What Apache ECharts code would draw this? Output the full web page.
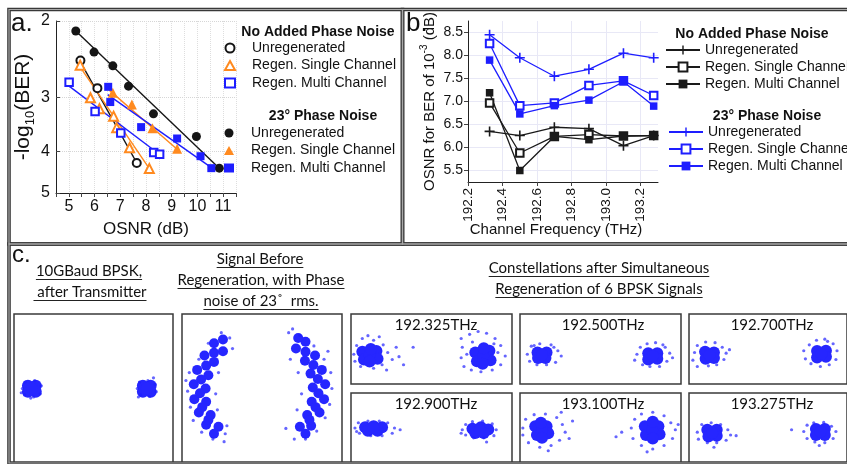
<!DOCTYPE html>
<html>
<head>
<meta charset="utf-8">
<title>BPSK phase regeneration</title>
<script src="https://cdn.jsdelivr.net/npm/echarts@6/dist/echarts.min.js"></script>
<style>
html, body { margin: 0; padding: 0; background: #fff; }
#main { width: 847px; height: 464px; }
</style>
</head>
<body>
<div id="main"></div>
<script>
// ---------- a. BER curves: [OSNR (dB), -log10(BER)]
const osnrTicks = [5, 6, 7, 8, 9, 10, 11];
const berTicks = [2, 3, 4, 5];
const aNoPnUnreg = [[5.45, 2.47], [6.11, 2.86], [7.64, 4.26]];
const aNoPnSingle = [[5.44, 2.53], [5.84, 3.01], [6.19, 3.19], [6.74, 3.32], [6.86, 3.53], [7.36, 3.93], [8.13, 4.39]];
const aNoPnMulti = [[5.01, 2.77], [6.02, 3.24], [7.02, 3.63], [8.30, 4.03], [8.53, 4.07]];
const aPnUnreg = [[5.27, 2.11], [5.98, 2.36], [6.71, 2.54], [7.32, 2.83], [8.29, 3.28], [9.96, 3.70], [10.85, 4.38]];
const aPnSingle = [[6.71, 2.93], [7.45, 3.12], [8.25, 3.54], [9.21, 3.95]];
const aPnMulti = [[6.53, 2.84], [6.61, 3.08], [7.81, 3.52], [9.21, 3.74], [10.12, 4.11], [10.54, 4.38]];
// fitted lines (end points)
const fitNoPnUnreg = [[5.39, 2.45], [7.67, 4.29]];
const fitNoPnSingle = [[5.35, 2.51], [8.13, 4.39]];
const fitNoPnMulti = [[5.01, 2.83], [8.57, 4.09]];
const fitPnUnreg = [[5.20, 2.09], [10.90, 4.41]];
const fitPnSingle = [[6.57, 2.89], [9.21, 3.96]];
const fitPnMulti = [[6.51, 2.96], [10.57, 4.38]];

// ---------- b. OSNR for BER of 1e-3 per channel
const freqs = [192.325, 192.5, 192.7, 192.9, 193.1, 193.275];
const freqTicks = [192.2, 192.4, 192.6, 192.8, 193.0, 193.2];
const reqTicks = [5.5, 6.0, 6.5, 7.0, 7.5, 8.0, 8.5];
const bNoPnUnreg = [6.35, 6.26, 6.44, 6.41, 6.04, 6.26];
const bNoPnSingle = [6.97, 5.88, 6.24, 6.28, 6.25, 6.26];
const bNoPnMulti = [7.19, 5.50, 6.24, 6.17, 6.25, 6.26];
const bPnUnreg = [8.45, 7.95, 7.55, 7.70, 8.05, 7.95];
const bPnSingle = [8.26, 6.91, 6.97, 7.35, 7.45, 7.13];
const bPnMulti = [7.90, 6.73, 6.91, 7.03, 7.43, 6.90];

// ---------- c. constellations [I, Q]
const chTitles = ['192.325THz', '192.500THz', '192.700THz', '192.900THz', '193.100THz', '193.275THz'];
const txCore = [[-1.10, 0.05], [-0.96, 0.05], [-0.96, -0.06], [-1.10, -0.06], [-1.03, 0.0],
  [0.96, 0.05], [1.10, 0.05], [1.10, -0.06], [0.96, -0.06], [1.03, 0.0]];
const txSpread = [[-1.20, 0.0], [-1.15, 0.12], [-0.98, 0.15], [-0.86, 0.05], [-0.88, -0.10], [-1.00, -0.16],
  [-1.16, -0.12], [-1.05, -0.18], [-1.22, -0.08], [0.86, 0.0], [0.90, 0.12], [1.05, 0.15], [1.18, 0.08],
  [1.20, -0.06], [1.08, -0.15], [0.92, -0.12], [1.15, 0.20], [0.88, -0.16]];
const pnCore = [[-0.78, 0.85], [-0.95, 0.62], [-1.08, 0.35], [-1.14, 0.08], [-1.13, -0.20], [-1.05, -0.45], [-0.92, -0.68],
  [-0.62, 0.70], [-0.78, 0.50], [-0.88, 0.25], [-0.93, 0.0], [-0.92, -0.25], [-0.84, -0.50], [-0.70, -0.72],
  [-0.78, 0.67], [-0.92, 0.43], [-1.01, 0.17], [-1.03, -0.09], [-0.99, -0.35], [-0.88, -0.59], [-0.62, 0.92], [-0.78, -0.85],
  [0.85, 0.88], [1.02, 0.62], [1.14, 0.35], [1.20, 0.08], [1.18, -0.20], [1.10, -0.45], [0.95, -0.70],
  [0.68, 0.75], [0.84, 0.52], [0.94, 0.28], [0.98, 0.02], [0.96, -0.25], [0.88, -0.50], [0.75, -0.72],
  [0.85, 0.69], [0.99, 0.44], [1.07, 0.18], [1.08, -0.09], [1.03, -0.35], [0.92, -0.59], [0.72, 0.95], [0.85, -0.85]];
const pnSpread = [[-0.65, 1.05], [-0.50, 0.95], [-0.45, 0.75], [-0.88, 0.85], [-1.05, 0.55], [-1.22, 0.30],
  [-1.25, -0.05], [-1.20, -0.35], [-1.15, -0.60], [-1.00, -0.82], [-0.80, -0.95], [-0.60, -1.00], [-0.58, -0.85],
  [-0.70, 0.30], [-0.75, -0.10], [-0.72, -0.40], [-0.55, -0.70], [-1.28, 0.15],
  [0.55, 1.05], [0.62, 1.12], [0.75, 1.00], [1.00, 0.80], [1.18, 0.55], [1.30, 0.30], [1.32, 0.0],
  [1.28, -0.30], [1.20, -0.55], [1.05, -0.80], [0.85, -0.95], [0.65, -0.95], [0.50, -0.75], [0.72, 0.30],
  [0.78, -0.10], [0.70, -0.40], [0.58, 0.55], [1.25, 0.70]];
const c325Core = [[-1.15, -0.08], [-0.90, -0.06], [-0.88, -0.28], [-1.12, -0.30], [-1.02, -0.17], [-1.00, 0.0], [-1.02, -0.36],
  [0.85, -0.10], [1.10, -0.05], [1.12, -0.32], [0.88, -0.35], [0.99, -0.20], [1.00, 0.02], [0.98, -0.42]];
const c325Spread = [[-1.30, -0.15], [-1.25, 0.10], [-1.15, 0.30], [-0.95, 0.25], [-0.78, 0.12], [-0.70, -0.10],
  [-0.62, -0.30], [-0.50, -0.22], [-0.55, 0.05], [-0.80, -0.45], [-0.95, -0.55], [-1.18, -0.50], [-1.28, -0.35],
  [-0.42, -0.45], [-0.25, 0.05], [-0.72, -0.60], [-1.05, 0.38], [-0.85, 0.35],
  [0.60, 0.30], [0.62, 0.05], [0.60, -0.25], [0.65, -0.50], [0.75, 0.42], [0.90, 0.50], [1.05, 0.45], [1.20, 0.30],
  [1.30, 0.10], [1.38, -0.20], [1.30, -0.45], [1.15, -0.60], [0.95, -0.65], [0.78, -0.60], [0.70, -0.15],
  [1.25, -0.10], [0.80, 0.20], [1.18, 0.15]];
const c500Core = [[-1.04, -0.10], [-0.88, -0.10], [-0.90, -0.26], [-1.03, -0.26], [-0.96, -0.17],
  [0.92, -0.12], [1.08, -0.12], [1.08, -0.28], [0.92, -0.30], [1.00, -0.20]];
const c500Spread = [[-1.22, -0.15], [-1.15, 0.08], [-1.00, 0.15], [-0.80, 0.12], [-0.68, -0.05], [-0.62, -0.20],
  [-0.72, -0.38], [-0.88, -0.45], [-1.05, -0.45], [-1.18, -0.35], [-0.75, 0.05], [-1.10, 0.10],
  [0.72, -0.15], [0.68, -0.32], [0.78, 0.05], [0.90, 0.15], [1.05, 0.18], [1.22, 0.05], [1.30, -0.12],
  [1.25, -0.35], [1.12, -0.50], [0.95, -0.50], [0.82, -0.45], [1.18, 0.12], [1.35, -0.25]];
const c700Core = [[-1.06, -0.08], [-0.90, -0.10], [-0.90, -0.26], [-1.05, -0.28], [-0.98, -0.17],
  [0.96, -0.06], [1.12, -0.05], [1.12, -0.22], [0.96, -0.24], [1.04, -0.14]];
const c700Spread = [[-1.25, -0.10], [-1.20, 0.10], [-1.05, 0.20], [-0.88, 0.18], [-0.75, 0.05], [-0.68, -0.12],
  [-0.72, -0.30], [-0.85, -0.45], [-1.00, -0.48], [-1.20, -0.50], [-1.28, -0.32], [-0.62, -0.02],
  [0.72, -0.05], [0.75, -0.28], [0.82, 0.12], [0.95, 0.25], [1.10, 0.28], [1.25, 0.15], [1.32, -0.05],
  [1.30, -0.30], [1.18, -0.45], [1.02, -0.50], [0.85, -0.42], [1.15, 0.22]];
const c900Core = [[-1.10, 0.02], [-0.95, 0.05], [-0.80, 0.02], [-1.05, -0.08], [-0.88, -0.08], [-0.95, 0.0],
  [0.80, -0.02], [0.95, 0.02], [1.08, -0.04], [0.85, -0.14], [1.00, -0.14], [0.93, -0.06]];
const c900Spread = [[-1.28, 0.0], [-1.22, 0.15], [-1.05, 0.20], [-0.85, 0.20], [-0.70, 0.15], [-0.58, 0.0],
  [-0.62, -0.15], [-0.80, -0.22], [-1.00, -0.22], [-1.20, -0.15], [-0.48, -0.05], [-1.25, -0.10],
  [0.62, -0.05], [0.68, 0.10], [0.80, 0.18], [0.98, 0.20], [1.15, 0.12], [1.22, -0.05], [1.18, -0.22],
  [1.00, -0.28], [0.82, -0.28], [0.68, -0.20], [1.05, -0.40], [0.60, -0.15]];
const c1100Core = [[-1.08, 0.05], [-0.88, 0.05], [-0.85, -0.15], [-1.05, -0.20], [-0.96, -0.06], [-0.98, 0.15], [-0.96, -0.28],
  [0.86, 0.05], [1.10, 0.05], [1.12, -0.18], [0.88, -0.20], [0.99, -0.06], [1.00, 0.18], [1.00, -0.30]];
const c1100Spread = [[-1.30, 0.0], [-1.25, 0.25], [-1.10, 0.38], [-0.90, 0.40], [-0.70, 0.30], [-0.60, 0.10],
  [-0.55, -0.12], [-0.65, -0.35], [-0.80, -0.50], [-1.00, -0.55], [-1.20, -0.42], [-1.30, -0.20], [-0.42, 0.20],
  [-0.85, -0.65], [-0.62, 0.45], [-0.48, -0.30],
  [0.62, 0.0], [0.68, 0.25], [0.80, 0.40], [1.00, 0.45], [1.20, 0.35], [1.32, 0.15], [1.40, -0.05], [1.35, -0.30],
  [1.20, -0.50], [1.00, -0.60], [0.80, -0.50], [0.65, -0.30], [0.45, -0.12], [0.35, -0.25], [1.45, 0.10], [0.90, -0.68]];
const c1275Core = [[-1.02, -0.05], [-0.85, -0.05], [-0.85, -0.22], [-1.00, -0.24], [-0.93, -0.14],
  [0.94, -0.03], [1.10, -0.03], [1.10, -0.20], [0.94, -0.20], [1.02, -0.11]];
const c1275Spread = [[-1.20, -0.12], [-1.12, 0.10], [-0.95, 0.15], [-0.78, 0.10], [-0.65, -0.05], [-0.60, -0.20],
  [-0.68, -0.35], [-0.85, -0.42], [-1.02, -0.42], [-1.18, -0.32], [-0.50, -0.22], [-0.90, -0.55],
  [0.72, -0.10], [0.78, 0.08], [0.90, 0.15], [1.08, 0.16], [1.22, 0.05], [1.30, -0.10], [1.25, -0.30],
  [1.10, -0.42], [0.92, -0.40], [0.78, -0.30], [0.50, -0.05], [1.00, -0.50]];

const blue = '#1e1eff', orange = '#ff8a1f', black = '#151515';
const coreBlue = '#2626ff';
const dotBlue = 'rgba(30,30,255,0.85)';
const plus = 'path://M4.2,0H5.8V4.2H10V5.8H5.8V10H4.2V5.8H0V4.2H4.2Z';
const font = 'Liberation Sans';
const cFont = 'Lato';

const toLog = pts => pts.map(p => [p[0], Math.log10(p[1])]);
const withFreq = vals => vals.map((v, i) => [freqs[i], v]);

const ctx = document.createElement('canvas').getContext('2d');
function textWidth(str, f) { ctx.font = f; return ctx.measureText(str).width; }

// constellation frames
const boxes = [
  { left: 14, top: 314, width: 159, height: 149, yr: 1.4, core: txCore, spread: txSpread, coreSize: 12 },
  { left: 182, top: 314, width: 160, height: 149, yr: 1.4, core: pnCore, spread: pnSpread, coreSize: 10 },
  { left: 351, top: 314, width: 161, height: 70, yr: 1, core: c325Core, spread: c325Spread, coreSize: 12, t: 0 },
  { left: 520, top: 314, width: 161, height: 70, yr: 1, core: c500Core, spread: c500Spread, coreSize: 12, t: 1 },
  { left: 689, top: 314, width: 161, height: 70, yr: 1, core: c700Core, spread: c700Spread, coreSize: 12, t: 2 },
  { left: 351, top: 393, width: 161, height: 70, yr: 1, core: c900Core, spread: c900Spread, coreSize: 12, t: 3 },
  { left: 520, top: 393, width: 161, height: 70, yr: 1, core: c1100Core, spread: c1100Spread, coreSize: 12, t: 4 },
  { left: 689, top: 393, width: 161, height: 70, yr: 1, core: c1275Core, spread: c1275Spread, coreSize: 12, t: 5 }
];

const grids = [
  { left: 56, top: 21, width: 180, height: 172 },
  { left: 468, top: 21, width: 190, height: 161 }
];
const xAxes = [
  {
    gridIndex: 0, type: 'value', min: 4.5, max: 11.5, interval: 0.5,
    name: 'OSNR (dB)', nameLocation: 'middle', nameGap: 28,
    nameTextStyle: { fontSize: 17, color: '#111' },
    axisLine: { onZero: false, lineStyle: { color: '#222' } },
    axisTick: { length: 4, lineStyle: { color: '#444' } },
    axisLabel: { customValues: osnrTicks, fontSize: 16, color: '#111', margin: 6 },
    splitLine: { show: true, lineStyle: { type: 'dotted', color: '#dedede' } }
  },
  {
    gridIndex: 1, type: 'value', min: 192.2, max: 193.3,
    axisLine: { onZero: false, lineStyle: { color: '#222' } },
    axisTick: { customValues: freqTicks, length: 4, lineStyle: { color: '#444' } },
    axisLabel: { customValues: freqTicks, rotate: 90, fontSize: 13.5, color: '#111', margin: 6,
      formatter: v => v.toFixed(1) },
    splitLine: { show: true, lineStyle: { color: '#e8e8f6' } }
  }
];
const yAxes = [
  {
    gridIndex: 0, type: 'value', inverse: true, min: Math.log10(2), max: Math.log10(5),
    name: '-log{sub|10}(BER)', nameLocation: 'middle', nameGap: 18, nameRotate: 90,
    nameTextStyle: { fontSize: 21, color: '#111', lineHeight: 28,
      rich: { sub: { fontSize: 13, lineHeight: 28, verticalAlign: 'bottom' } } },
    axisLine: { onZero: false, lineStyle: { color: '#222' } },
    axisTick: { customValues: berTicks.map(Math.log10), inside: true, length: 4, lineStyle: { color: '#444' } },
    axisLabel: { customValues: berTicks.map(Math.log10), fontSize: 16, color: '#111', margin: 6,
      formatter: v => String(Math.round(Math.pow(10, v))) },
    splitLine: { show: true, lineStyle: { type: 'dotted', color: '#d6d6d6' } }
  },
  {
    gridIndex: 1, type: 'value', min: 5.25, max: 8.75,
    name: 'OSNR for BER of 10{sup|-3} (dB)', nameLocation: 'middle', nameGap: 24, nameRotate: 90,
    nameTextStyle: { fontSize: 15, color: '#111', lineHeight: 20,
      rich: { sup: { fontSize: 10, lineHeight: 20, verticalAlign: 'top' } } },
    axisLine: { onZero: false, lineStyle: { color: '#222' } },
    axisTick: { customValues: reqTicks, length: 4, lineStyle: { color: '#444' } },
    axisLabel: { customValues: reqTicks, fontSize: 14, color: '#111', margin: 5,
      formatter: v => v.toFixed(1) },
    splitLine: { show: true, lineStyle: { color: '#e8e8f6' } }
  }
];

const series = [];
function fit(pts, color) {
  series.push({ type: 'line', xAxisIndex: 0, yAxisIndex: 0, data: toLog(pts), symbol: 'none',
    silent: true, lineStyle: { color: color, width: 1.4 }, z: 2 });
}
function dots(name, pts, symbol, size, color) {
  series.push({ name: name, type: 'scatter', xAxisIndex: 0, yAxisIndex: 0, data: toLog(pts),
    symbol: symbol, symbolSize: size, itemStyle: { color: color, borderWidth: 1.3, opacity: 1 }, z: 3 });
}
fit(fitNoPnUnreg, black); fit(fitNoPnSingle, orange); fit(fitNoPnMulti, blue);
fit(fitPnUnreg, black); fit(fitPnSingle, orange); fit(fitPnMulti, blue);
dots('Unregenerated#a1', aNoPnUnreg, 'emptyCircle', 8, black);
dots('Regen. Single Channel#a1', aNoPnSingle, 'emptyTriangle', 9, orange);
dots('Regen. Multi Channel#a1', aNoPnMulti, 'emptyRect', 7.5, blue);
dots('Unregenerated#a2', aPnUnreg, 'circle', 9, black);
dots('Regen. Single Channel#a2', aPnSingle, 'triangle', 10, orange);
dots('Regen. Multi Channel#a2', aPnMulti, 'rect', 8, blue);

function trace(name, vals, symbol, size, color) {
  series.push({ name: name, type: 'line', xAxisIndex: 1, yAxisIndex: 1, data: withFreq(vals),
    symbol: symbol, symbolSize: size, showAllSymbol: true,
    lineStyle: { color: color, width: 1.3 }, itemStyle: { color: color, borderWidth: 1.2 } });
}
trace('Unregenerated#b1', bNoPnUnreg, plus, 10, '#1a1a1a');
trace('Regen. Single Channel#b1', bNoPnSingle, 'emptyRect', 7.5, '#1a1a1a');
trace('Regen. Multi Channel#b1', bNoPnMulti, 'rect', 7.5, '#1a1a1a');
trace('Unregenerated#b2', bPnUnreg, plus, 10, blue);
trace('Regen. Single Channel#b2', bPnSingle, 'emptyRect', 7.5, blue);
trace('Regen. Multi Channel#b2', bPnMulti, 'rect', 7.5, blue);

boxes.forEach(b => {
  const gi = grids.length;
  grids.push({ left: b.left, top: b.top, width: b.width, height: b.height, show: true,
    backgroundColor: '#fff', borderColor: '#3a3a3a', borderWidth: 1.5 });
  xAxes.push({ gridIndex: gi, type: 'value', min: -1.35, max: 1.5, show: false });
  yAxes.push({ gridIndex: gi, type: 'value', min: -b.yr, max: b.yr, show: false });
  series.push({ type: 'scatter', xAxisIndex: gi, yAxisIndex: gi, data: b.core, symbolSize: b.coreSize,
    clip: false, silent: true, itemStyle: { color: coreBlue, opacity: 1 } });
  series.push({ type: 'scatter', xAxisIndex: gi, yAxisIndex: gi, data: b.spread, symbolSize: 3.2,
    clip: false, silent: true, itemStyle: { color: dotBlue } });
});

const legendBase = {
  orient: 'vertical', padding: 0, itemGap: 3.5, selectedMode: false,
  textStyle: { fontSize: 14, color: '#111', fontFamily: font },
  formatter: n => n.split('#')[0]
};
const markerText = { fontSize: 14, color: '#111', fontFamily: font, padding: [0, 0, 0, 12] };
const legends = [
  Object.assign({}, legendBase, { left: 224, top: 41, itemWidth: 10, itemHeight: 9, textStyle: markerText,
    itemStyle: { borderWidth: 1.2 },
    data: ['Unregenerated#a1', 'Regen. Single Channel#a1', 'Regen. Multi Channel#a1'] }),
  Object.assign({}, legendBase, { left: 224, top: 126, itemWidth: 10, itemHeight: 9, textStyle: markerText,
    data: ['Unregenerated#a2', 'Regen. Single Channel#a2', 'Regen. Multi Channel#a2'] }),
  Object.assign({}, legendBase, { left: 665, top: 43, itemWidth: 34, itemHeight: 11, itemGap: 3,
    data: ['Unregenerated#b1', 'Regen. Single Channel#b1', 'Regen. Multi Channel#b1'] }),
  Object.assign({}, legendBase, { left: 668, top: 125, itemWidth: 34, itemHeight: 11, itemGap: 3,
    data: ['Unregenerated#b2', 'Regen. Single Channel#b2', 'Regen. Multi Channel#b2'] })
];

// ---------- frames and texts
const graphic = [];
function frame(x, y, w, h) {
  graphic.push({ type: 'rect', shape: { x: x, y: y, width: w, height: h }, silent: true, z: 50,
    style: { fill: 'none', stroke: '#383838', lineWidth: 3.6 } });
  graphic.push({ type: 'rect', shape: { x: x, y: y, width: w, height: h }, silent: true, z: 51,
    style: { fill: 'none', stroke: '#a8a8a8', lineWidth: 1.2 } });
}
frame(9, 9.5, 393.5, 234.5);
frame(402.5, 9.5, 450, 234.5);
frame(9, 244, 843, 219);

function label(str, x, y, f, align) {
  graphic.push({ type: 'text', x: x, y: y, silent: true, z: 60,
    style: { text: str, font: f, fill: '#111', align: align || 'center', verticalAlign: 'middle' } });
}
label('a.', 11, 24, '26px ' + font, 'left');
label('b.', 406, 24, '26px ' + font, 'left');
label('c.', 12, 255, '24px ' + font, 'left');
label('No Added Phase Noise', 318, 32, 'bold 14px ' + font);
label('23° Phase Noise', 323, 116, 'bold 14px ' + font);
label('No Added Phase Noise', 752, 34, 'bold 14px ' + font);
label('23° Phase Noise', 767, 116, 'bold 14px ' + font);
label('Channel Frequency (THz)', 556, 230, '15px ' + font);

function underlined(str, cx, cy) {
  const f = '15px ' + cFont;
  const w = textWidth(str, f);
  label(str, cx, cy, f);
  graphic.push({ type: 'line', silent: true, z: 60,
    shape: { x1: cx - w / 2, y1: cy + 8.5, x2: cx + w / 2, y2: cy + 8.5 },
    style: { stroke: '#222', lineWidth: 1 } });
}
underlined('10GBaud BPSK,', 89, 271);
underlined(' after Transmitter', 90, 292);
underlined('Signal Before', 260, 259);
underlined('Regeneration, with Phase', 261, 280);
underlined('noise of 23˚  rms.', 261, 301);
underlined('Constellations after Simultaneous', 599, 268);
underlined('Regeneration of 6 BPSK Signals', 599, 289);

const titleX = [436, 603, 772];
boxes.forEach(b => {
  if (b.t === undefined) return;
  label(chTitles[b.t], titleX[b.t % 3], b.top + 11.5, '15px ' + cFont);
});

const chart = echarts.init(document.getElementById('main'));
chart.setOption({
  animation: false,
  backgroundColor: '#fff',
  textStyle: { fontFamily: font },
  grid: grids,
  xAxis: xAxes,
  yAxis: yAxes,
  legend: legends,
  series: series,
  graphic: graphic
});
</script>
</body>
</html>
